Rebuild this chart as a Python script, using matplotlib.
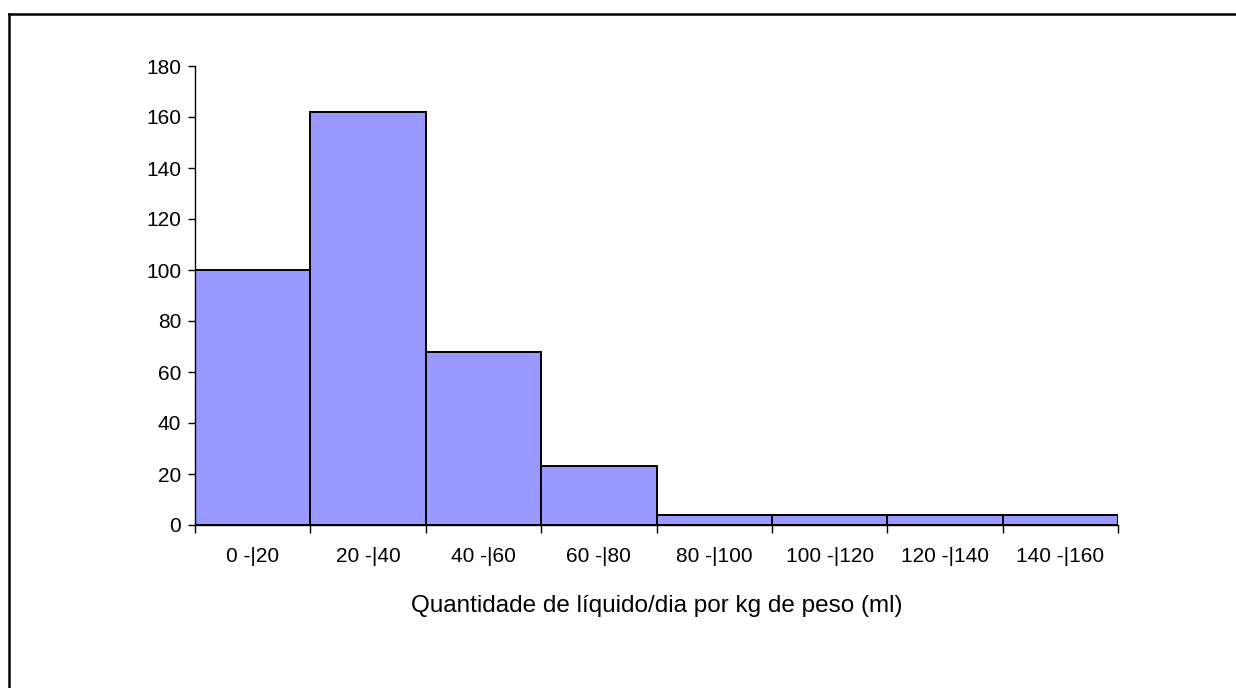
import matplotlib
matplotlib.use("Agg")
import matplotlib.pyplot as plt
from matplotlib.lines import Line2D

plt.rcParams['font.family'] = ['Liberation Sans', 'DejaVu Sans']

categories = ["0 -|20", "20 -|40", "40 -|60", "60 -|80",
              "80 -|100", "100 -|120", "120 -|140", "140 -|160"]
counts = [100, 162, 68, 23, 4, 4, 4, 4]
y_ticks = [0, 20, 40, 60, 80, 100, 120, 140, 160, 180]
x_label = "Quantidade de líquido/dia por kg de peso (ml)"

fig = plt.figure(figsize=(12.36, 6.88), dpi=100)
ax = fig.add_axes([195 / 1236, 1 - 525 / 688, (1118 - 195) / 1236, (525 - 66) / 688])

positions = range(len(categories))
ax.bar(positions, counts, width=1.0, align='edge', color='#9999FF',
       edgecolor='black', linewidth=1.4, zorder=2)

ax.set_xlim(0, len(categories))
ax.set_ylim(0, 180)
ax.set_yticks(y_ticks)
ax.set_yticklabels([str(v) for v in y_ticks], fontsize=15)

# Boundaries between classes carry the tick marks; labels sit centred in each class
ax.set_xticks(range(len(categories) + 1))
ax.set_xticklabels([])
ax.set_xticks([i + 0.5 for i in positions], minor=True)
ax.set_xticklabels(categories, minor=True, fontsize=15)
ax.tick_params(axis='x', which='minor', length=0, pad=16)
ax.tick_params(axis='x', which='major', length=6, width=1, direction='out')
ax.tick_params(axis='y', length=5, width=1, direction='out', pad=5)

for side in ('top', 'right'):
    ax.spines[side].set_visible(False)
for side in ('left', 'bottom'):
    ax.spines[side].set_linewidth(1.0)
    ax.spines[side].set_color('black')

ax.set_xlabel(x_label, fontsize=17.5, labelpad=21)

# Outer chart-area frame
W, H = 1236, 688
fig.add_artist(Line2D([9 / W, 9 / W], [0, 1 - 14 / H], color='black', lw=1.8,
                      transform=fig.transFigure))
fig.add_artist(Line2D([9 / W, 1], [1 - 14 / H, 1 - 14 / H], color='black', lw=1.8,
                      transform=fig.transFigure))

fig.savefig("out.png", dpi=100)
